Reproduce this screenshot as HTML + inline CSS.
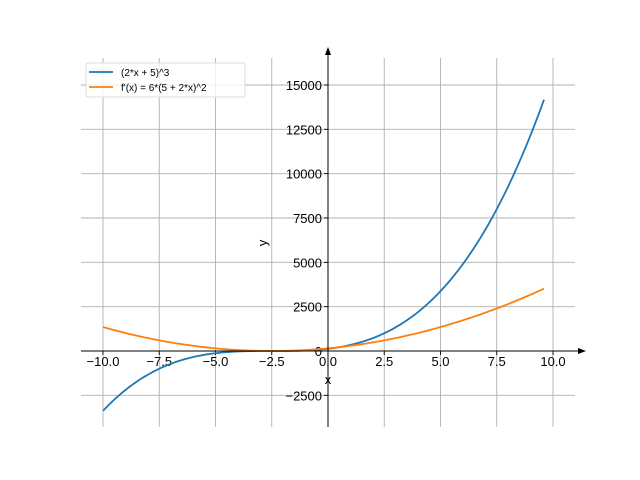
<!DOCTYPE html><html><head><style>body{margin:0;background:#fff}svg{display:block}text{font-family:"Liberation Sans","DejaVu Sans",sans-serif}</style></head><body>
<svg id="s" width="640" height="480" xmlns="http://www.w3.org/2000/svg">
<g id="grid" stroke="#b0b0b0" stroke-width="0.9"></g>
<g id="lbl" font-size="13" fill="#000"></g>
<polyline id="c1" fill="none" stroke="#1f77b4" stroke-width="1.8"/>
<polyline id="c2" fill="none" stroke="#ff7f0e" stroke-width="1.8"/>
<line x1="328" y1="54" x2="328" y2="427" stroke="#000" stroke-width="1"/>
<polygon points="328,47 325,55 331,55" fill="#000"/>
<line x1="81" y1="351" x2="580" y2="351" stroke="#000" stroke-width="1"/>
<polygon points="586,351 578,348 578,354" fill="#000"/>
<text x="328" y="384" font-size="13" text-anchor="middle">x</text>
<text x="267" y="243" font-size="13" text-anchor="middle" transform="rotate(-90 267 243)">y</text>
<rect x="86" y="63" width="159" height="34" rx="2" fill="#fff" fill-opacity="0.8" stroke="#ddd"/>
<line x1="89" y1="72" x2="113" y2="72" stroke="#1f77b4" stroke-width="1.8"/>
<line x1="89" y1="87" x2="113" y2="87" stroke="#ff7f0e" stroke-width="1.8"/>
<text x="121" y="76" font-size="10">(2*x + 5)^3</text>
<text x="121" y="91" font-size="10">f'(x) = 6*(5 + 2*x)^2</text>
</svg>
<script>
var X=function(x){return 328+22.5*x},Y=function(y){return 351-y*266/15000};
var g=document.getElementById('grid'),l=document.getElementById('lbl'),ns='http://www.w3.org/2000/svg';
function el(p,t,a,txt){var e=document.createElementNS(ns,t);for(var k in a)e.setAttribute(k,a[k]);if(txt)e.textContent=txt;p.appendChild(e);}
for(var i=-4;i<=4;i++){var x=X(i*2.5);el(g,'line',{x1:x,y1:58,x2:x,y2:427});el(g,'line',{x1:x,y1:351,x2:x,y2:355,stroke:'#000'});
var t=(i*2.5).toFixed(1).replace('-','\u2212');el(l,'text',{x:x,y:366,'text-anchor':'middle'},t);}
for(var j=-1;j<=6;j++){var y=Y(j*2500);el(g,'line',{x1:81,y1:y,x2:575,y2:y});el(g,'line',{x1:324,y1:y,x2:328,y2:y,stroke:'#000'});
el(l,'text',{x:322,y:y+5,'text-anchor':'end'},String(j*2500).replace('-','\u2212'));}
var p1=[],p2=[];for(var k=0;k<=200;k++){var x=-10+19.6*k/200,u=2*x+5;p1.push(X(x)+','+Y(u*u*u));p2.push(X(x)+','+Y(6*u*u));}
document.getElementById('c1').setAttribute('points',p1.join(' '));document.getElementById('c2').setAttribute('points',p2.join(' '));
</script></body></html>
